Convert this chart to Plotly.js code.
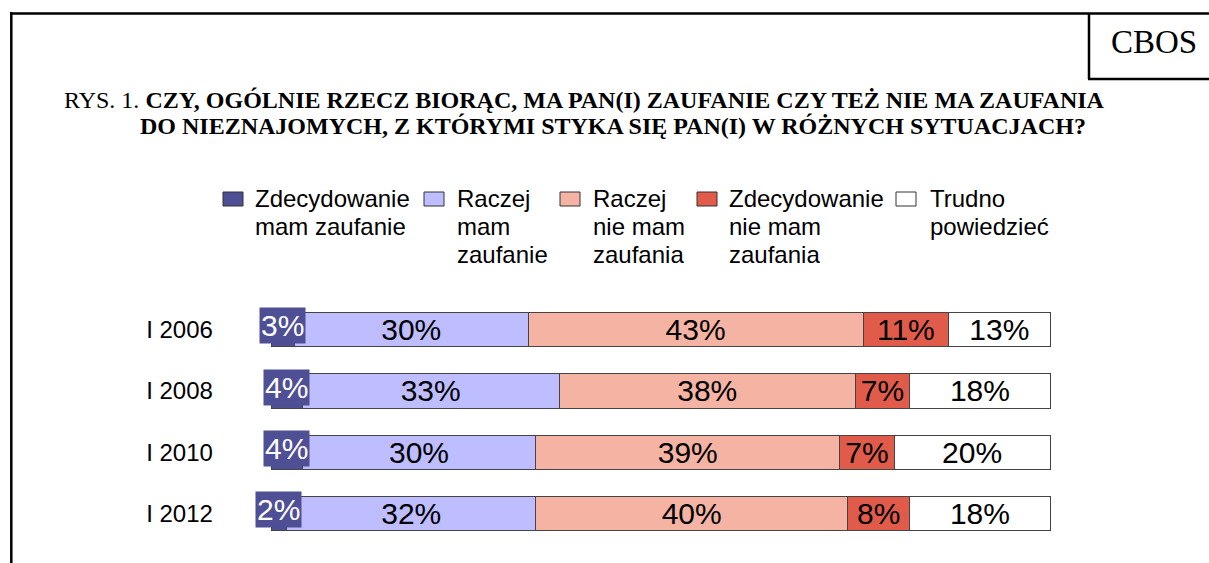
<!DOCTYPE html>
<html>
<head>
<meta charset="utf-8">
<script src="https://cdn.plot.ly/plotly-3.0.1.min.js"></script>
<style>html,body{margin:0;padding:0;background:#fff;}#chart{width:1209px;height:563px;}</style>
</head>
<body>
<div id="chart"></div>
<script>
// ---- data ----
const years = ['I 2006', 'I 2008', 'I 2010', 'I 2012'];
const seriesNames = [
  'Zdecydowanie<br>mam zaufanie',
  'Raczej<br>mam<br>zaufanie',
  'Raczej<br>nie mam<br>zaufania',
  'Zdecydowanie<br>nie mam<br>zaufania',
  'Trudno<br>powiedzieć'
];
const definitelyTrust    = [3, 4, 4, 2];
const ratherTrust        = [30, 33, 30, 32];
const ratherNoTrust      = [43, 38, 39, 40];
const definitelyNoTrust  = [11, 7, 7, 8];
const hardToSay          = [13, 18, 20, 18];
const titleLine1Prefix = 'RYS. 1. ';
const titleLine1 = 'CZY, OGÓLNIE RZECZ BIORĄC, MA PAN(I) ZAUFANIE CZY TEŻ NIE MA ZAUFANIA';
const titleLine2 = 'DO NIEZNAJOMYCH, Z KTÓRYMI STYKA SIĘ PAN(I) W RÓŻNYCH SYTUACJACH?';
const sourceLabel = 'CBOS';

// ---- styling ----
const W = 1209, H = 563;
const px = x => x / W;
const py = y => 1 - y / H;
const colors = ['#4F4F96', '#BDBDFF', '#F5B3A3', '#E05B4A', '#FFFFFF'];
const seriesValues = [definitelyTrust, ratherTrust, ratherNoTrust, definitelyNoTrust, hardToSay];

const traces = seriesValues.map((vals, i) => ({
  type: 'bar',
  orientation: 'h',
  name: seriesNames[i],
  y: years,
  x: vals,
  marker: {color: colors[i], line: {color: '#444', width: 1}},
  text: i === 0 ? null : vals.map(v => v + '%'),
  textposition: i === 0 ? 'none' : 'inside',
  insidetextanchor: 'middle',
  textangle: 0,
  constraintext: 'none',
  textfont: {family: 'Liberation Sans, Arial, sans-serif', size: 30, color: '#000'},
  hoverinfo: 'skip',
  showlegend: false
}));

const annotations = [];
// dark segment labels with filled box
definitelyTrust.forEach((v, j) => {
  annotations.push({
    xref: 'x', yref: 'y', x: v / 2, y: years[j],
    text: v + '%', showarrow: false,
    font: {family: 'Liberation Sans, Arial, sans-serif', size: 30, color: '#fff'},
    bgcolor: colors[0], borderpad: 1, yshift: 4
  });
});
// title
annotations.push({
  xref: 'paper', yref: 'paper', x: px(62), y: py(99.5), xanchor: 'left', yanchor: 'middle',
  text: titleLine1Prefix + '<b>' + titleLine1 + '</b>', showarrow: false,
  font: {family: 'Liberation Serif, Times New Roman, serif', size: 24, color: '#000'}
});
annotations.push({
  xref: 'paper', yref: 'paper', x: px(138), y: py(126), xanchor: 'left', yanchor: 'middle',
  text: '<b>' + titleLine2 + '</b>', showarrow: false,
  font: {family: 'Liberation Serif, Times New Roman, serif', size: 24, color: '#000'}
});
annotations.push({
  xref: 'paper', yref: 'paper', x: px(1154), y: py(42), xanchor: 'center', yanchor: 'middle',
  text: sourceLabel, showarrow: false,
  font: {family: 'Liberation Serif, Times New Roman, serif', size: 33, color: '#000'}
});

// legend (custom, multi-line)
const legSquareX = [223, 424, 560, 697, 896];
const legTextX = [253, 455, 591, 727, 928];
const legBaselines = [206.7, 235, 263.3];
const shapes = [];
seriesNames.forEach((name, i) => {
  shapes.push({type: 'rect', xref: 'paper', yref: 'paper',
    x0: px(legSquareX[i]), x1: px(legSquareX[i] + 20), y0: py(206), y1: py(192),
    fillcolor: colors[i], line: {color: '#333', width: 1}});
  name.split('<br>').forEach((line, k) => {
    annotations.push({
      xref: 'paper', yref: 'paper', x: px(legTextX[i]), y: py(legBaselines[k] - 0.35 * 24),
      xanchor: 'left', yanchor: 'middle', text: line, showarrow: false,
      font: {family: 'Liberation Sans, Arial, sans-serif', size: 24, color: '#000'}
    });
  });
});

// frame lines
const lw = 2.5;
shapes.push({type: 'line', xref: 'paper', yref: 'paper', x0: px(11.3), x1: px(11.3), y0: py(12.3), y1: py(563), line: {color: '#000', width: lw}});
shapes.push({type: 'line', xref: 'paper', yref: 'paper', x0: px(10), x1: px(1209), y0: py(13.5), y1: py(13.5), line: {color: '#000', width: lw}});
shapes.push({type: 'line', xref: 'paper', yref: 'paper', x0: px(1089), x1: px(1089), y0: py(13.5), y1: py(79), line: {color: '#000', width: lw}});
shapes.push({type: 'line', xref: 'paper', yref: 'paper', x0: px(1088), x1: px(1209), y0: py(79), y1: py(79), line: {color: '#000', width: lw}});

const pitch = 61.3;
const yTop = 329.7 - pitch / 2, yBot = yTop + pitch * 4;
const unit = 7.79; // px per percentage point
const pad = 0.3;   // range padding so outlines are not clipped

const layout = {
  width: W, height: H,
  margin: {l: 0, r: 0, t: 0, b: 0, pad: 0},
  paper_bgcolor: '#fff', plot_bgcolor: 'rgba(0,0,0,0)',
  barmode: 'stack',
  bargap: 0.445,
  showlegend: false,
  xaxis: {domain: [px(271 - pad * unit), px(1050 + pad * unit)], range: [-pad, 100 + pad], visible: false, fixedrange: true},
  yaxis: {
    domain: [py(yBot), py(yTop)],
    type: 'category', categoryorder: 'array', categoryarray: years,
    range: [3.5, -0.5],
    showgrid: false, zeroline: false, showline: false,
    ticks: 'outside', ticklen: 50, tickcolor: 'rgba(0,0,0,0)',
    tickfont: {family: 'Liberation Sans, Arial, sans-serif', size: 24, color: '#000'},
    fixedrange: true
  },
  shapes: shapes,
  annotations: annotations
};

Plotly.newPlot('chart', traces, layout, {displayModeBar: false, staticPlot: true});
</script>
</body>
</html>
